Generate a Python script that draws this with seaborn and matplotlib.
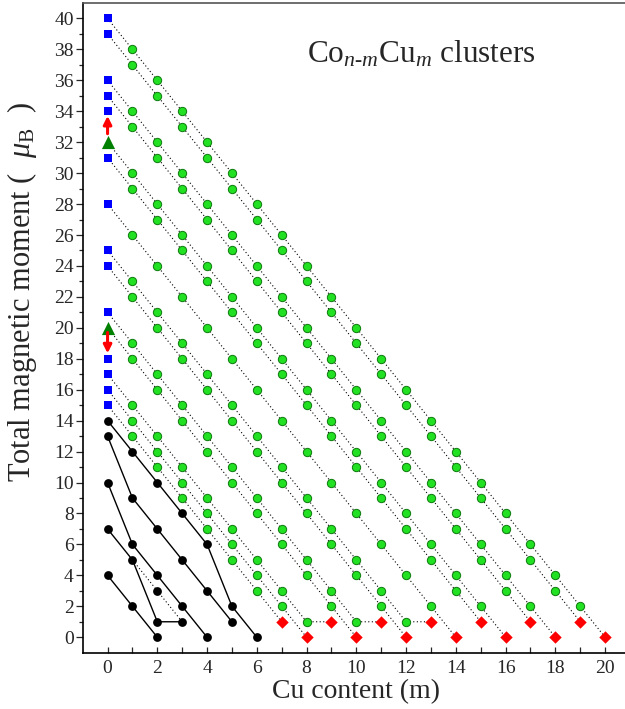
import numpy as np
import pandas as pd
import matplotlib
matplotlib.use("Agg")
import matplotlib.pyplot as plt
import seaborn as sns

# ---- data: total magnetic moment of Co(n-m)Cu(m), index = m (Cu content) ----
co20 = [40, 38, 36, 34, 32, 30, 28, 26, 24, 22, 20, 18, 16, 14, 12, 10, 8, 6, 4, 2, 0]
co19 = [39, 37, 35, 33, 31, 29, 27, 25, 23, 21, 19, 17, 15, 13, 11, 9, 7, 5, 3, 1]
co18 = [36, 34, 32, 30, 28, 26, 24, 22, 20, 18, 16, 14, 12, 10, 8, 6, 4, 2, 0]
co17 = [35, 33, 31, 29, 27, 25, 23, 21, 19, 17, 15, 13, 11, 9, 7, 5, 3, 1]
co16 = [32, 30, 28, 26, 24, 22, 20, 18, 16, 14, 12, 10, 8, 6, 4, 2, 0]
co15 = [31, 29, 27, 25, 23, 21, 19, 17, 15, 13, 11, 9, 7, 5, 3, 1]
co14 = [28, 26, 24, 22, 20, 18, 16, 14, 12, 10, 8, 6, 4, 2, 0]
co13 = [25, 23, 21, 19, 17, 15, 13, 11, 9, 7, 5, 3, 1, 1]
co12 = [24, 22, 20, 18, 16, 14, 12, 10, 8, 6, 4, 2, 0]
co11 = [21, 19, 17, 15, 13, 11, 9, 7, 5, 3, 1, 1]
co10 = [20, 18, 16, 14, 12, 10, 8, 6, 4, 2, 0]
co9 = [17, 15, 13, 11, 9, 7, 5, 3, 1, 1]
co8 = [16, 14, 12, 10, 8, 6, 4, 2, 0]
co7 = [15, 13, 11, 9, 7, 5, 3, 1]
# small clusters (solid black)
co6 = [14, 12, 10, 8, 6, 2, 0]
co5 = [13, 9, 7, 5, 3, 1]
co4 = [10, 6, 4, 2, 0]
co3 = [7, 5, 1, 1]
co2 = [4, 2, 0]
# alternative n=3 path (dotted black)
co3_alt_m = [1, 2, 3]
co3_alt_M = [5, 3, 1]
# extra pure-Co values (blue squares without lines)
extra_M = [34, 18]
# clusters whose pure-Co value is shown as a triangle
triangle_n = [16, 10]
# arrows at m = 0: (from, to)
arrow_up = (32.55, 33.7)
arrow_down = (19.7, 18.35)

large = {20: co20, 19: co19, 18: co18, 17: co17, 16: co16, 15: co15, 14: co14,
         13: co13, 12: co12, 11: co11, 10: co10, 9: co9, 8: co8, 7: co7}
small = {6: co6, 5: co5, 4: co4, 3: co3, 2: co2}

rows = []
for n, vals in large.items():
    for m, M in enumerate(vals):
        role = "start" if m == 0 else ("end" if m == len(vals) - 1 else "mid")
        rows.append(dict(n=n, m=m, M=M, role=role))
gdf = pd.DataFrame(rows)
brows = []
for n, vals in small.items():
    for m, M in enumerate(vals):
        brows.append(dict(n=n, m=m, M=M))
bdf = pd.DataFrame(brows)
adf = pd.DataFrame(dict(m=co3_alt_m, M=co3_alt_M))

# ---- style ----
sns.set_style("ticks")
plt.rcParams["font.family"] = ["Liberation Serif", "DejaVu Serif"]
plt.rcParams["mathtext.fontset"] = "custom"
plt.rcParams["mathtext.rm"] = "Liberation Serif"
plt.rcParams["mathtext.it"] = "Liberation Serif:italic"
plt.rcParams["mathtext.bf"] = "Liberation Serif:bold"

fig = plt.figure(figsize=(6.25, 7.09), dpi=100)
ax = fig.add_axes([0.1323, 0.0794, 0.8757, 0.9164])

dots = (0, (1, 2.2))
sns.lineplot(data=gdf, x="m", y="M", units="n", estimator=None, sort=False,
             color="black", lw=0.8, linestyle=dots, ax=ax, legend=False, zorder=1)
sns.lineplot(data=adf, x="m", y="M", estimator=None, sort=False,
             color="black", lw=0.8, linestyle=dots, ax=ax, legend=False, zorder=1)
sns.lineplot(data=bdf, x="m", y="M", units="n", estimator=None, sort=False,
             color="black", lw=1.0, ax=ax, legend=False, zorder=2)

mid = gdf[gdf.role == "mid"]
end = gdf[gdf.role == "end"]
start = gdf[gdf.role == "start"]
sq = start[~start.n.isin(triangle_n)]
tri = start[start.n.isin(triangle_n)]

sns.scatterplot(data=mid, x="m", y="M", marker="o", s=36, color="#22e022",
                edgecolor="#0c7a0c", linewidth=0.7, ax=ax, zorder=3)
sns.scatterplot(data=end, x="m", y="M", marker="D", s=40, color="#ff0000",
                linewidth=0, ax=ax, zorder=3)
sns.scatterplot(data=sq, x="m", y="M", marker="s", s=36, color="#0000ff",
                linewidth=0, ax=ax, zorder=3)
sns.scatterplot(x=[0] * len(extra_M), y=extra_M, marker="s", s=36, color="#0000ff",
                linewidth=0, ax=ax, zorder=3)
sns.scatterplot(data=tri, x="m", y="M", marker="^", s=90, color="#008000",
                linewidth=0, ax=ax, zorder=3)
sns.scatterplot(data=bdf, x="m", y="M", marker="o", s=40, color="black",
                linewidth=0, ax=ax, zorder=3)
sns.scatterplot(data=adf.iloc[[1]], x="m", y="M", marker="o", s=40, color="black",
                linewidth=0, ax=ax, zorder=3)

for a, b in (arrow_up, arrow_down):
    ax.annotate("", xy=(0, b), xytext=(0, a),
                arrowprops=dict(arrowstyle="-|>", color="#ff0000", lw=2.2,
                                mutation_scale=12, shrinkA=0, shrinkB=0),
                zorder=4)

ax.set_xlim(-1, 21)
ax.set_ylim(-1, 41)
ax.set_xticks(range(0, 21, 2))
ax.set_xticks(range(1, 21, 2), minor=True)
ax.set_yticks(range(0, 41, 2))
ax.set_yticks(range(1, 41, 2), minor=True)
ax.tick_params(axis="x", which="both", direction="in", length=4.5, width=0.9,
               labelsize=14, pad=5)
ax.tick_params(axis="y", which="major", direction="out", length=5, width=0.9,
               labelsize=14, pad=1.5)
ax.tick_params(axis="y", which="minor", direction="out", length=3, width=0.9)
for sp in ax.spines.values():
    sp.set_linewidth(1.2)
    sp.set_color("black")
ax.spines["top"].set_color("#555555")

ax.set_xlabel("Cu content (m)", fontsize=20, labelpad=2)
ax.set_ylabel(r"Total magnetic moment (  $\mu_{\mathrm{B}}$  )", fontsize=22)
ax.yaxis.set_label_coords(-0.079, 0.555)

ax.text(12.62, 37.7, r"Co$_{n\text{-}m}$Cu$_{m}$ clusters", fontsize=22.5,
        ha="center", va="center")

fig.savefig("out.png", dpi=100)
